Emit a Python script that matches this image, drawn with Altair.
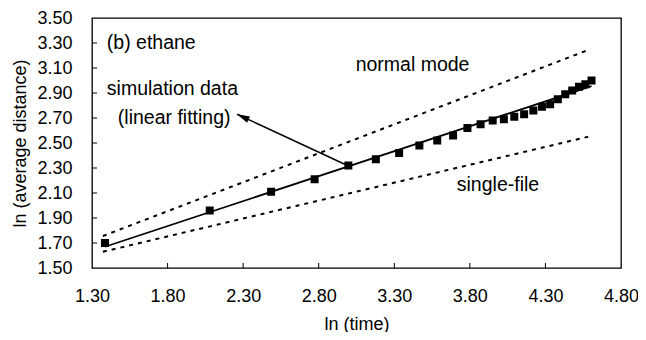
import altair as alt
import pandas as pd

# simulation data (ln time, ln average distance)
ln_time = [1.386, 2.079, 2.485, 2.773, 2.996, 3.178, 3.332, 3.466, 3.584, 3.689,
           3.784, 3.871, 3.951, 4.025, 4.094, 4.159, 4.220, 4.277, 4.331, 4.382,
           4.431, 4.477, 4.522, 4.564, 4.605]
ln_dist = [1.70, 1.96, 2.11, 2.21, 2.32, 2.37, 2.42, 2.48, 2.52, 2.56,
           2.62, 2.65, 2.68, 2.69, 2.71, 2.73, 2.76, 2.79, 2.81, 2.85,
           2.89, 2.92, 2.95, 2.97, 3.00]

# linear fit and reference lines
fit_x = [1.386, 4.605]
fit_y = [1.67, 2.955]
normal_x = [1.372, 4.583]
normal_y = [1.756, 3.244]
single_x = [1.372, 4.583]
single_y = [1.63, 2.55]

# arrow (from data point to label)
arrow_x = [2.99, 2.26]
arrow_y = [2.32, 2.73]

# axis ticks
x_tick_values = [1.30, 1.80, 2.30, 2.80, 3.30, 3.80, 4.30, 4.80]
y_tick_values = [1.50, 1.70, 1.90, 2.10, 2.30, 2.50, 2.70, 2.90, 3.10, 3.30, 3.50]
x_inner_ticks = [1.80, 2.30, 2.80, 3.30, 3.80, 4.30]
y_inner_ticks = [1.70, 1.90, 2.10, 2.30, 2.50, 2.70, 2.90, 3.10, 3.30]

# annotations
ann_text = ["(b) ethane", "simulation data", "(linear fitting)", "normal mode", "single-file"]
ann_x = [1.398, 1.398, 1.471, 3.421, 3.986]
ann_y = [3.30, 2.93, 2.70, 3.124, 2.164]
ann_align = ["left", "left", "left", "center", "center"]

FONT = "Liberation Sans"
W, H = 529, 250

xs = alt.Scale(domain=[1.3, 4.8], nice=False, zero=False)
ys = alt.Scale(domain=[1.5, 3.5], nice=False, zero=False)
xaxis = alt.Axis(values=x_tick_values, format=".2f", title="ln (time)", grid=False,
                 ticks=False, domain=False, labelPadding=19, titlePadding=10, labelFlush=False,
                 labelFontSize=18, titleFontSize=18, titleFontWeight="normal",
                 labelColor="black", titleColor="black", labelFont=FONT, titleFont=FONT)
yaxis = alt.Axis(values=y_tick_values, format=".2f", title="ln (average distance)", grid=False,
                 ticks=False, domain=False, labelPadding=20, titlePadding=7, labelFlush=False,
                 labelFontSize=18, titleFontSize=18, titleFontWeight="normal",
                 labelColor="black", titleColor="black", labelFont=FONT, titleFont=FONT)
X = alt.X("x:Q", scale=xs, axis=xaxis)
Y = alt.Y("y:Q", scale=ys, axis=yaxis)

pts = pd.DataFrame({"x": ln_time, "y": ln_dist})
fit = pd.DataFrame({"x": fit_x, "y": fit_y})
normal = pd.DataFrame({"x": normal_x, "y": normal_y})
single = pd.DataFrame({"x": single_x, "y": single_y})
arrow = pd.DataFrame({"x": arrow_x, "y": arrow_y})
tip = pd.DataFrame({"x": [arrow_x[1]], "y": [arrow_y[1]]})
xt = pd.DataFrame({"x": x_inner_ticks})
yt = pd.DataFrame({"y": y_inner_ticks})
ann = pd.DataFrame({"x": ann_x, "y": ann_y, "label": ann_text, "align": ann_align})

layers = []
layers.append(alt.Chart(xt).mark_rule(color="black", strokeWidth=1).encode(
    x=X, y=alt.value(H), y2=alt.value(H - 5)))
layers.append(alt.Chart(yt).mark_rule(color="black", strokeWidth=1).encode(
    y=Y, x=alt.value(0), x2=alt.value(5)))
layers.append(alt.Chart(normal).mark_line(color="black", strokeWidth=2, strokeDash=[4, 5]).encode(x=X, y=Y))
layers.append(alt.Chart(single).mark_line(color="black", strokeWidth=2, strokeDash=[4, 5]).encode(x=X, y=Y))
layers.append(alt.Chart(fit).mark_line(color="black", strokeWidth=1.8).encode(x=X, y=Y))
layers.append(alt.Chart(pts).mark_square(color="black", size=64, opacity=1).encode(x=X, y=Y))
layers.append(alt.Chart(arrow).mark_line(color="black", strokeWidth=1.5).encode(x=X, y=Y))
layers.append(alt.Chart(tip).mark_point(shape="M0,0L-0.55,2L0.55,2Z", filled=True, color="black",
                                         size=160, angle=295, opacity=1).encode(x=X, y=Y))
for a in ["left", "center"]:
    layers.append(alt.Chart(ann[ann["align"] == a]).mark_text(
        align=a, baseline="middle", fontSize=19.5, font=FONT, color="black").encode(
        x=X, y=Y, text="label:N"))

chart = alt.layer(*layers).properties(
    width=W, height=H,
    autosize=alt.AutoSizeParams(type="none"),
    padding={"left": 84, "top": 10, "right": 17, "bottom": 64},
    background="white",
).configure_view(stroke="black", strokeWidth=1.3)

chart.save("out.html", embed_options={"renderer": "svg", "actions": False})
